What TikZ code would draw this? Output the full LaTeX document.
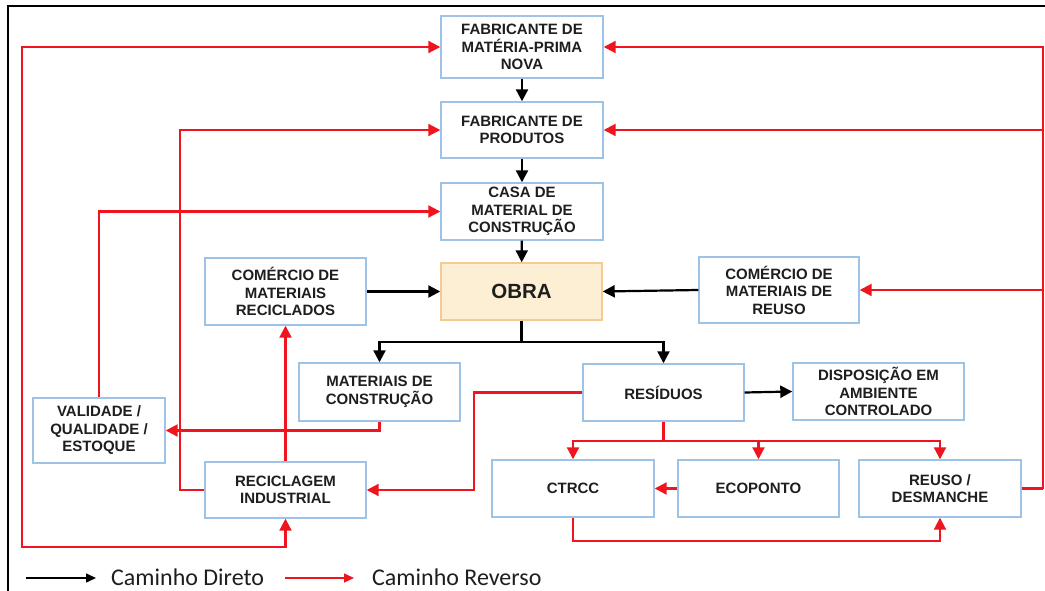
\documentclass[tikz,border=0pt]{standalone}
\usepackage{fontspec}
\setmainfont{Liberation Sans}
\newfontfamily\legendfont{Carlito}
\usetikzlibrary{arrows.meta}
\definecolor{boxblue}{HTML}{9DC3E6}
\definecolor{obrafill}{HTML}{FDEFD3}
\definecolor{obraedge}{HTML}{F2CB95}
\definecolor{revred}{HTML}{F0141E}
\definecolor{txt}{HTML}{1E1E1E}
\begin{document}
\begin{tikzpicture}[x=1pt,y=-1pt,
  box/.style={draw=boxblue, line width=1.4pt, fill=white, align=center, inner sep=0pt,
    font=\fontsize{15}{17.5}\selectfont\bfseries, text=txt, minimum width=161pt},
  tip/.tip={Triangle[length=12pt,width=12pt]},
  direct/.style={draw=black, line width=2.2pt, -tip},
  reverse/.style={draw=revred, line width=2.1pt, -tip},
  legarrow/.style={line width=1.5pt, -{Triangle[length=10pt,width=9pt]}},
  legtext/.style={anchor=base west, inner sep=0pt, font=\legendfont\fontsize{24}{28}\selectfont, text=txt},
]
\useasboundingbox (0,0) rectangle (1045,591);
% frame
\draw[line width=1.8pt] (8,591) -- (8,6) -- (1045,6);

% boxes
\node[box, minimum width=162pt, minimum height=62pt] (fmp) at (522,47) {FABRICANTE DE\\MATÉRIA-PRIMA\\NOVA};
\node[box, minimum width=162pt, minimum height=56pt] (fp) at (522,130) {FABRICANTE DE\\PRODUTOS};
\node[box, minimum width=162pt, minimum height=57pt] (casa) at (522,211.5) {CASA DE\\MATERIAL DE\\CONSTRUÇÃO};
\node[box, draw=obraedge, fill=obrafill, minimum height=57pt, font=\fontsize{20.5}{24}\selectfont\bfseries] (obra) at (521.5,291.5) {OBRA};
\node[box, minimum height=67pt] (crec) at (285.5,291.5) {COMÉRCIO DE\\MATERIAIS\\RECICLADOS};
\node[box, minimum width=160pt, minimum height=66pt] (creu) at (779,290) {COMÉRCIO DE\\MATERIAIS DE\\REUSO};
\node[box, minimum height=58pt] (mat) at (379.5,392) {MATERIAIS DE\\CONSTRUÇÃO};
\node[box, minimum width=132pt, minimum height=65pt] (val) at (99,430.5) {VALIDADE /\\QUALIDADE /\\ESTOQUE};
\node[box, minimum height=56pt] (rec) at (285.5,490) {RECICLAGEM\\INDUSTRIAL};
\node[box, minimum height=57pt] (res) at (663.5,392.5) {RESÍDUOS};
\node[box, minimum width=171pt, minimum height=57pt] (disp) at (878.5,391.5) {DISPOSIÇÃO EM\\AMBIENTE\\CONTROLADO};
\node[box, minimum width=162pt, minimum height=57pt] (ctrcc) at (573,488.5) {CTRCC};
\node[box, minimum height=57pt] (eco) at (758.5,488.5) {ECOPONTO};
\node[box, minimum width=162pt, minimum height=57pt] (reuso) at (940,488.5) {REUSO /\\DESMANCHE};

% direct path
\draw[direct] (fmp) -- (fp);
\draw[direct] (fp) -- (casa);
\draw[direct] (casa) -- (obra);
\draw[direct] (crec.east) -- (obra.west);
\draw[direct] (creu.west) -- (obra.east);
\coordinate (split) at (521.5,342);
\draw[direct] (obra.south) -- (split) -| (mat.north);
\draw[direct] (split) -| (res.north);
\draw[direct] (res.east) -- (disp.west);

% reverse path
\coordinate (lb) at (22,547);
\draw[reverse, tip-tip] (fmp.west) -| (lb) -| (rec.south);
\draw[reverse] (rec.west) -- ++(-24,0) |- (fp.west);
\draw[reverse] (val.north) |- (casa.west);
\draw[reverse] (rec.north) -- (crec.south);
\draw[reverse] (mat.south) |- (val.east);
\draw[reverse] (res.west) -- ++(-108,0) |- (rec.east);
\coordinate (rb) at (663.5,441);
\draw[revred, line width=2.1pt] (res.south) -- (rb);
\draw[reverse] (rb) -| (ctrcc.north);
\draw[reverse] (rb) -| (eco.north);
\draw[reverse] (rb) -| (reuso.north);
\draw[reverse] (eco.west) -- (ctrcc.east);
\draw[reverse] (ctrcc.south) -- ++(0,23) -| (reuso.south);
\coordinate (rr) at (1043,488.5);
\draw[revred, line width=2.1pt] (reuso.east) -- (rr);
\draw[reverse] (rr) |- (fmp.east);
\draw[reverse] (rr) |- (fp.east);
\draw[reverse] (rr) |- (creu.east);

% legend
\coordinate (l1a) at (26,578);
\coordinate (l1b) at (96,578);
\coordinate (l2a) at (285,578);
\coordinate (l2b) at (354,578);
\draw[legarrow] (l1a) -- (l1b);
\node[legtext] (ldir) at (111,585) {Caminho Direto};
\draw[legarrow, draw=revred, fill=revred] (l2a) -- (l2b);
\node[legtext] (lrev) at (372,585) {Caminho Reverso};
\end{tikzpicture}
\end{document}
